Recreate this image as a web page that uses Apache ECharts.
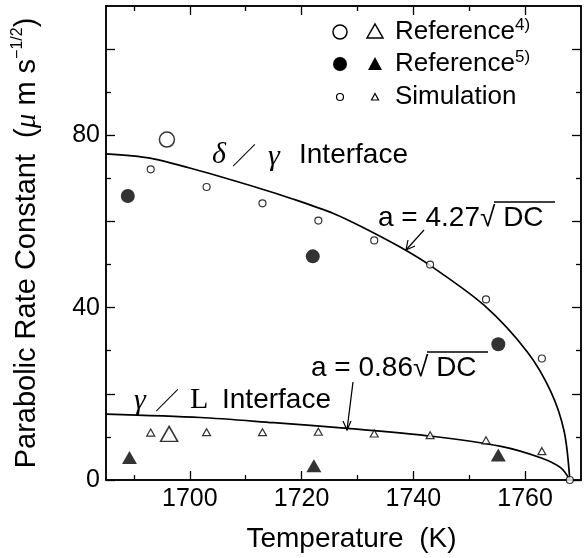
<!DOCTYPE html>
<html>
<head>
<meta charset="utf-8"/>
<title>Parabolic rate constant vs temperature</title>
<style type="text/css">
    html, body { margin: 0; padding: 0; background: #fff; }
    #chart { width: 585px; height: 558px; }
</style>
<script type="text/javascript" src="https://cdn.jsdelivr.net/npm/echarts@6.0.0/dist/echarts.min.js"></script>
</head>
<body>
<div id="chart"></div>
<script>
    // ticks and labels
    var xMajorTicks = [1700, 1720, 1740, 1760];
    var xMinorTicks = [1690, 1710, 1730, 1750];
    var xTickLabels = [1700, 1720, 1740, 1760];
    var yMajorTicks = [0, 20, 40, 60, 80, 100];
    var yMinorTicks = [10, 30, 50, 70, 90];
    var yTickLabels = [0, 40, 80];

    // Reference 4) (open marks)
    var ref4Circle = [[1695.9, 79.0]];
    var ref4Triangle = [[1696.3, 10.7]];
    // Reference 5) (filled marks)
    var ref5Circle = [[1688.9, 65.9], [1722.0, 51.9], [1755.2, 31.5]];
    var ref5Triangle = [[1689.2, 5.2], [1722.2, 3.3], [1755.2, 5.8]];
    // Simulation (small marks)
    var simCircle = [[1693, 72.1], [1703, 68.0], [1713, 64.2], [1723, 60.2], [1733, 55.6],
                     [1743, 50.0], [1753, 41.9], [1763, 28.2], [1768, 0]];
    var simTriangle = [[1693, 11.0], [1703, 11.1], [1713, 11.1], [1723, 11.2], [1733, 10.8],
                       [1743, 10.4], [1753, 9.2], [1763, 6.7]];

    // fitted curves
    var deltaGammaCurve = [[1685, 75.7], [1692.9, 74.7], [1701.9, 71.7], [1712.7, 67.6], [1718, 65.4],
                           [1725.8, 61.8], [1731, 58.6], [1737.7, 54.0], [1743.1, 49.7], [1752.7, 40.5],
                           [1760.4, 29.7], [1764.6, 20.5], [1767.0, 11.2], [1768.0, 0]];
    var gammaLCurve = [[1685, 15.3], [1701.9, 14.5], [1715, 13.3], [1728.2, 12.0], [1743.7, 10.1],
                       [1755.7, 7.8], [1762.9, 5.1], [1766.4, 2.8], [1768.0, 0]];

    var black = '#000';
    var sans = 'Liberation Sans, Arial, sans-serif';
    var serif = 'Liberation Serif, DejaVu Serif, serif';

    function xAxisCfg(pos, ticks, len, labels) {
        return {
            type: 'value', min: 1685, max: 1770, position: pos,
            axisLine: { show: true, onZero: false, lineStyle: { color: black, width: 1.5 } },
            axisTick: { show: true, inside: true, length: len, customValues: ticks, lineStyle: { color: black, width: 1.3 } },
            axisLabel: labels ? { show: true, customValues: labels, color: black, fontSize: 25, fontFamily: sans, margin: 7,
                                  formatter: function (v) { return String(v); } } : { show: false },
            splitLine: { show: false }
        };
    }
    function yAxisCfg(pos, ticks, len, labels) {
        return {
            type: 'value', min: 0, max: 110, position: pos,
            axisLine: { show: true, onZero: false, lineStyle: { color: black, width: 1.5 } },
            axisTick: { show: true, inside: true, length: len, customValues: ticks, lineStyle: { color: black, width: 1.3 } },
            axisLabel: labels ? { show: true, customValues: labels, color: black, fontSize: 25, fontFamily: sans, margin: 6,
                                  formatter: function (v) { return String(v); } } : { show: false },
            splitLine: { show: false }
        };
    }

    var xMain = xAxisCfg('bottom', xMajorTicks, 9, xTickLabels);
    xMain.name = 'Temperature  (K)';
    xMain.nameLocation = 'middle';
    xMain.nameGap = 45;
    xMain.nameTextStyle = { color: black, fontSize: 28, fontFamily: sans, padding: [0, 0, 0, 16] };

    var yMain = yAxisCfg('left', yMajorTicks, 9, yTickLabels);
    yMain.name = '{t|Parabolic Rate Constant  (}{mu|\u03bc}{t| m s}{sup|\u22121/2}{t|)}';
    yMain.nameLocation = 'middle';
    yMain.nameGap = 62;
    yMain.nameTextStyle = {
        color: black,
        rich: {
            t: { fontSize: 29, fontFamily: sans, color: black, lineHeight: 34 },
            mu: { fontSize: 29, fontFamily: serif, fontStyle: 'italic', color: black, lineHeight: 34 },
            sup: { fontSize: 16, fontFamily: sans, color: black, lineHeight: 16, verticalAlign: 'top' }
        }
    };

    var legRich = {
        t: { fontSize: 26, fontFamily: sans, color: black, lineHeight: 30 },
        sup: { fontSize: 17, fontFamily: sans, color: black, lineHeight: 17, verticalAlign: 'top' }
    };

    // one piece of label text at a pixel spot
    function label(x, y, txt, font) {
        return { type: 'text', x: x, y: y, style: { text: txt, font: font, fill: black, verticalAlign: 'middle' } };
    }
    var greekFont = 'italic 30px ' + serif;
    var slashFont = '24px Noto Sans CJK JP';
    var textFont = '28px ' + sans;

    var chart = echarts.init(document.getElementById('chart'), null, { renderer: 'canvas' });

    var option = {
        animation: false,
        backgroundColor: '#fff',
        grid: { left: 106, right: 4, top: 6, bottom: 77 },
        xAxis: [
            xMain,
            xAxisCfg('bottom', xMinorTicks, 5, null),
            xAxisCfg('top', xMajorTicks, 9, null),
            xAxisCfg('top', xMinorTicks, 5, null)
        ],
        yAxis: [
            yMain,
            yAxisCfg('left', yMinorTicks, 5, null),
            yAxisCfg('right', yMajorTicks, 9, null),
            yAxisCfg('right', yMinorTicks, 5, null)
        ],
        series: [
            { name: 'delta/gamma', type: 'line', data: deltaGammaCurve, smooth: 0.3,
              showSymbol: false, silent: true, z: 2, lineStyle: { color: black, width: 1.7 } },
            { name: 'gamma/L', type: 'line', data: gammaLCurve, smooth: 0.3,
              showSymbol: false, silent: true, z: 2, lineStyle: { color: black, width: 1.7 } },
            { name: 'Simulation circle', type: 'scatter', data: simCircle, symbol: 'circle', symbolSize: 7, z: 5,
              itemStyle: { color: '#fff', borderColor: black, borderWidth: 1.2 } },
            { name: 'Simulation triangle', type: 'scatter', data: simTriangle, symbol: 'triangle', symbolSize: [8, 7], z: 5,
              itemStyle: { color: '#fff', borderColor: black, borderWidth: 1.2 } },
            { name: 'Reference4 circle', type: 'scatter', data: ref4Circle, symbol: 'circle', symbolSize: 15, z: 5,
              itemStyle: { color: '#fff', borderColor: black, borderWidth: 1.5 } },
            { name: 'Reference4 triangle', type: 'scatter', data: ref4Triangle, symbol: 'triangle', symbolSize: [17, 15], z: 5,
              itemStyle: { color: '#fff', borderColor: black, borderWidth: 1.5 } },
            { name: 'Reference5 circle', type: 'scatter', data: ref5Circle, symbol: 'circle', symbolSize: 14, z: 5,
              itemStyle: { color: black } },
            { name: 'Reference5 triangle', type: 'scatter', data: ref5Triangle, symbol: 'triangle', symbolSize: [15, 13], z: 5,
              itemStyle: { color: black } }
        ],
        graphic: [
            // legend
            { type: 'circle', shape: { cx: 340, cy: 32, r: 7 }, style: { fill: '#fff', stroke: black, lineWidth: 1.5 } },
            { type: 'polygon', shape: { points: [[367, 38], [383, 38], [375, 24]] }, style: { fill: '#fff', stroke: black, lineWidth: 1.5 } },
            { type: 'text', x: 395, y: 32, style: { text: '{t|Reference}{sup|4)}', rich: legRich, verticalAlign: 'middle' } },
            { type: 'circle', shape: { cx: 340, cy: 64, r: 7 }, style: { fill: black } },
            { type: 'polygon', shape: { points: [[368, 70], [382, 70], [375, 57]] }, style: { fill: black } },
            { type: 'text', x: 395, y: 64, style: { text: '{t|Reference}{sup|5)}', rich: legRich, verticalAlign: 'middle' } },
            { type: 'circle', shape: { cx: 340, cy: 97, r: 3.5 }, style: { fill: '#fff', stroke: black, lineWidth: 1.2 } },
            { type: 'polygon', shape: { points: [[371.5, 100], [378.5, 100], [375, 93.5]] }, style: { fill: '#fff', stroke: black, lineWidth: 1.2 } },
            label(395, 97, 'Simulation', '26px ' + sans),

            // curve labels
            label(212, 155, '\u03b4', greekFont),
            label(232, 155, '\uff0f', slashFont),
            label(268, 157, '\u03b3', greekFont),
            label(299, 155, 'Interface', textFont),
            label(134, 401, '\u03b3', greekFont),
            label(155, 400, '\uff0f', slashFont),
            label(190, 400, 'L', '30px ' + serif),
            label(222, 400, 'Interface', textFont),

            // equations
            label(378, 218, 'a = 4.27\u221a DC', '28px ' + sans),
            { type: 'line', shape: { x1: 494, y1: 202, x2: 555, y2: 202 }, style: { stroke: black, lineWidth: 1.4 } },
            label(311, 368, 'a = 0.86\u221a DC', '28px ' + sans),
            { type: 'line', shape: { x1: 427, y1: 352, x2: 488, y2: 352 }, style: { stroke: black, lineWidth: 1.4 } },

            // arrows
            { type: 'polyline', shape: { points: [[424, 230], [406, 250]] }, style: { stroke: black, lineWidth: 1.2, fill: null } },
            { type: 'polyline', shape: { points: [[408, 240], [406, 250], [415, 246]] }, style: { stroke: black, lineWidth: 1.2, fill: null } },
            { type: 'polyline', shape: { points: [[353, 382], [347, 430]] }, style: { stroke: black, lineWidth: 1.2, fill: null } },
            { type: 'polyline', shape: { points: [[343, 421], [347, 430], [351, 421]] }, style: { stroke: black, lineWidth: 1.2, fill: null } }
        ]
    };

    chart.setOption(option);
</script>
</body>
</html>
